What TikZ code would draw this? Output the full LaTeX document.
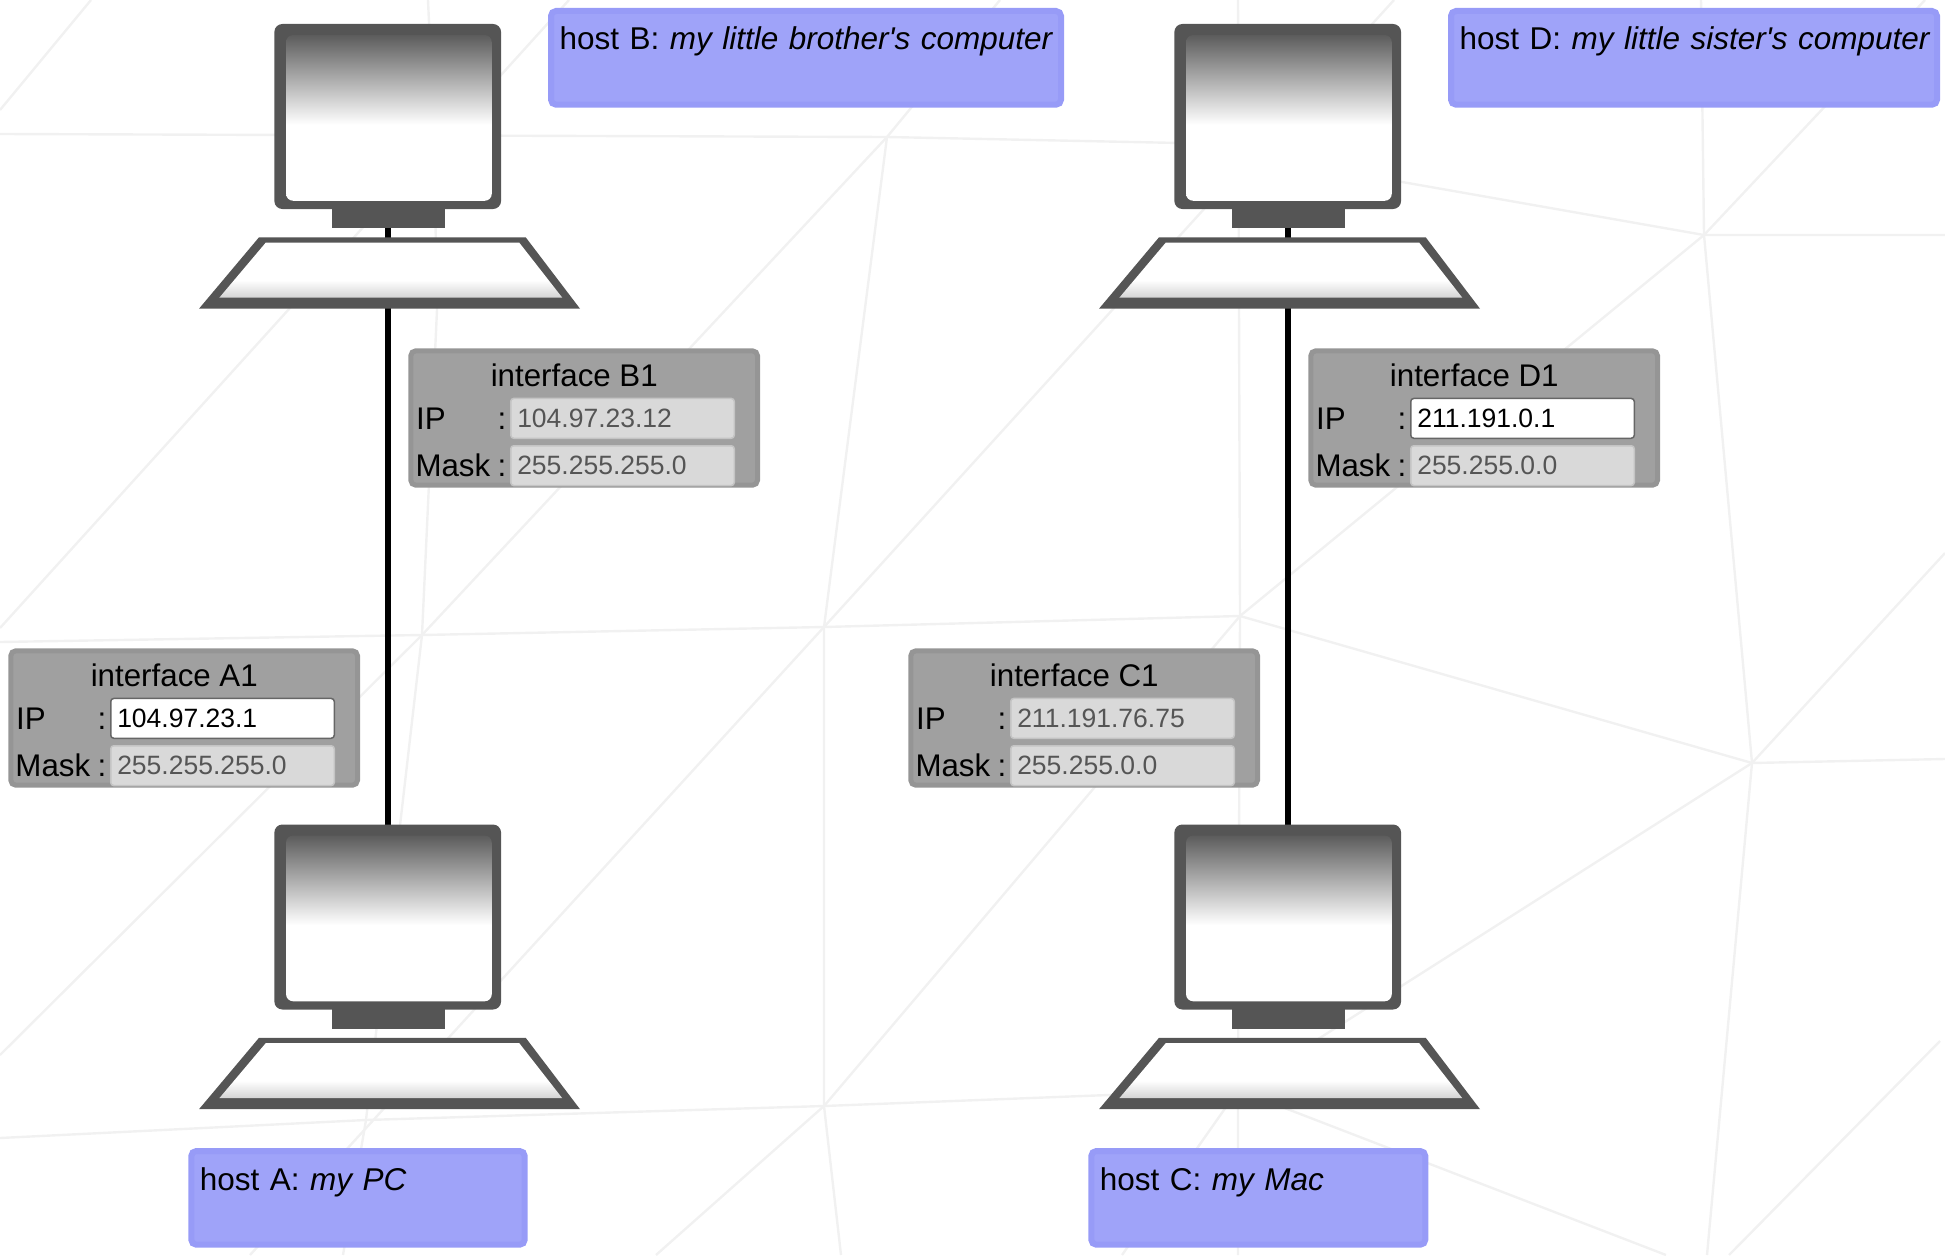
\documentclass[tikz,border=0pt]{standalone}
\usepackage{fontspec}
\setmainfont[Ligatures=TeXOff]{Liberation Sans}
\usepackage{tikz}
\usetikzlibrary{positioning}

\definecolor{casegrey}{HTML}{555555}
\definecolor{webgrey}{HTML}{F1F1F1}
\definecolor{panelfill}{HTML}{A0A0A0}
\definecolor{paneledge}{HTML}{959595}
\definecolor{hostfill}{HTML}{9FA3F9}
\definecolor{hostedge}{HTML}{979BF7}
\definecolor{fieldfill}{HTML}{D9D9D9}
\definecolor{fieldedge}{HTML}{C4C4C4}
\definecolor{fieldtext}{HTML}{555555}
\definecolor{screentop}{HTML}{5C5C5C}
\definecolor{kbgrey}{HTML}{D4D4D4}

\pgfdeclarelayer{back}
\pgfsetlayers{back,main}

\pgfdeclareverticalshading{screenfade}{100bp}{color(0bp)=(white); color(48bp)=(white); color(75bp)=(screentop); color(100bp)=(screentop)}
\pgfdeclareverticalshading{kbfade}{100bp}{color(0bp)=(kbgrey); color(25bp)=(kbgrey); color(41bp)=(white); color(100bp)=(white)}

\tikzset{
  web/.style={draw=webgrey, line width=2.4pt},
  link/.style={line width=6pt},
  monitor/.style={fill=casegrey, rounded corners=8pt, inner sep=0pt, outer sep=0pt, minimum width=226.7pt, minimum height=185pt},
  screen/.style={shade, shading=screenfade, rounded corners=7pt, inner sep=0pt, outer sep=0pt, minimum width=205.7pt, minimum height=165.7pt},
  stand/.style={fill=casegrey, inner sep=0pt, outer sep=0pt, minimum width=113.4pt, minimum height=19.4pt},
  hostbox/.style={anchor=north west, draw=hostedge, fill=hostfill, line width=6pt, rounded corners=5pt,
    align=left, inner xsep=8.5pt, inner ysep=0pt, text width=#1, text height=39pt, text depth=54.7pt,
    font=\fontsize{31.5}{38}\selectfont},
  panel/.style={anchor=north west, draw=paneledge, fill=panelfill, line width=5pt, rounded corners=5pt,
    inner sep=0pt, minimum width=346.7pt, minimum height=134.4pt},
  panellabel/.style={font=\fontsize{31.3}{36}\selectfont, inner sep=0pt},
  field/.style={anchor=north west, line width=1.5pt, rounded corners=3pt, align=left, inner xsep=6.5pt, inner ysep=0pt,
    text width=210.5pt, text height=28.75pt, text depth=11.05pt, font=\fontsize{26.5}{30}\selectfont},
  idlefield/.style={field, draw=fieldedge, fill=fieldfill, text=fieldtext},
  livefield/.style={field, draw=black!60, fill=white, text=black}
}

% monitor, stand and keyboard of one host
\newcommand{\computer}[3]{%
  \begin{scope}[shift={(#2,#3)}]
    \node[monitor] (mon#1) at (387.7,116.5) {};
    \node[screen] (scr#1) at (388.9,117.9) {};
    \node[stand] (stand#1) at (388.7,218.6) {};
    \fill[casegrey] (199,308.7) -- (259,237.3) -- (525.7,237.3) -- (580,308.7) -- cycle;
    \shade[shading=kbfade] (219.3,297.7) -- (265.7,242.7) -- (519.3,242.7) -- (562.3,297.7) -- cycle;
  \end{scope}}

% interface panel: name, x, y, title, IP, mask, style of the IP field
\newcommand{\iface}[7]{%
  \node[panel] (if#1) at (#2,#3) {};
  \node[panellabel, anchor=base] (title#1) at ([shift={(166,37.7)}]if#1.north west) {#4};
  \node[panellabel, anchor=base west] (iplab#1) at ([shift={(7.7,80.7)}]if#1.north west) {IP};
  \node[panellabel, anchor=base west] (ipcol#1) at ([shift={(89,81.5)}]if#1.north west) {:};
  \node[panellabel, anchor=base west] (masklab#1) at ([shift={(7,128.4)}]if#1.north west) {Mask};
  \node[panellabel, anchor=base west] (maskcol#1) at ([shift={(89,128.4)}]if#1.north west) {:};
  \node[#7] (ip#1) at ([shift={(101.7,49.4)}]if#1.north west) {#5};
  \node[idlefield] (mask#1) at ([shift={(101.7,96.7)}]if#1.north west) {#6};}

\begin{document}
\begin{tikzpicture}[x=1pt, y=-1pt]
\useasboundingbox (0,0) rectangle (1945,1255);

\computer{A}{0}{800.5}
\computer{B}{0}{0}
\computer{C}{900}{800.5}
\computer{D}{900}{0}

\iface{A}{8.3}{648.3}{interface A1}{104.97.23.1}{255.255.255.0}{livefield}
\iface{B}{408.3}{348.3}{interface B1}{104.97.23.12}{255.255.255.0}{idlefield}
\iface{C}{908.3}{648.3}{interface C1}{211.191.76.75}{255.255.0.0}{idlefield}
\iface{D}{1308.3}{348.3}{interface D1}{211.191.0.1}{255.255.0.0}{livefield}

\node[hostbox=316.4pt] (hostA) at (188.3,1148) {\mbox{host A: \textit{my PC}}};
\node[hostbox=493pt] (hostB) at (548,8) {\mbox{host B: \textit{my little brother's computer}}};
\node[hostbox=317pt] (hostC) at (1088.3,1148) {\mbox{host C: \textit{my Mac}}};
\node[hostbox=469pt] (hostD) at (1448,8) {\mbox{host D: \textit{my little sister's computer}}};

\begin{pgfonlayer}{back}
% faint web behind everything
\coordinate (v1) at (887,137);
\coordinate (v2) at (824,627);
\coordinate (v3) at (422,635);
\coordinate (v4) at (1240,616);
\coordinate (v5) at (1238,1090);
\coordinate (v6) at (1752,763);
\coordinate (v7) at (1704,235);
\coordinate (v8) at (366,1120);
\coordinate (v9) at (824,1106);
\draw[web] (0,134) -- (v1) -- (1180,143) -- (v7) -- (1945,235);
\draw[web] (428,0) -- (434,134) -- (437,310) -- (v3) -- (v8) -- (343,1255);
\draw[web] (91,0) -- (0,110);
\draw[web] (569,0) -- (0,628);
\draw[web] (1000,0) -- (v1) -- (v2) -- (v9) -- (841,1255);
\draw[web] (v1) -- (v3) -- (0,1055);
\draw[web] (1394,0) -- (v2) -- (250,1255);
\draw[web] (0,642) -- (v3) -- (v2) -- (v4) -- (v6) -- (1945,759);
\draw[web] (1238,0) -- (v4) -- (v5) -- (1238,1255);
\draw[web] (v4) -- (v7);
\draw[web] (v4) -- (v9) -- (656,1255);
\draw[web] (0,1138) -- (v8) -- (v9) -- (v5) -- (1666,1255);
\draw[web] (1701,0) -- (v7) -- (v6) -- (1707,1255);
\draw[web] (1925,0) -- (v7);
\draw[web] (1945,553) -- (v6) -- (v5) -- (1122,1255);
\draw[web] (1940,1041) -- (1729,1255);

\draw[link] (monB.south) -- (monA.north);
\draw[link] (monD.south) -- (monC.north);
\end{pgfonlayer}
\end{tikzpicture}
\end{document}
